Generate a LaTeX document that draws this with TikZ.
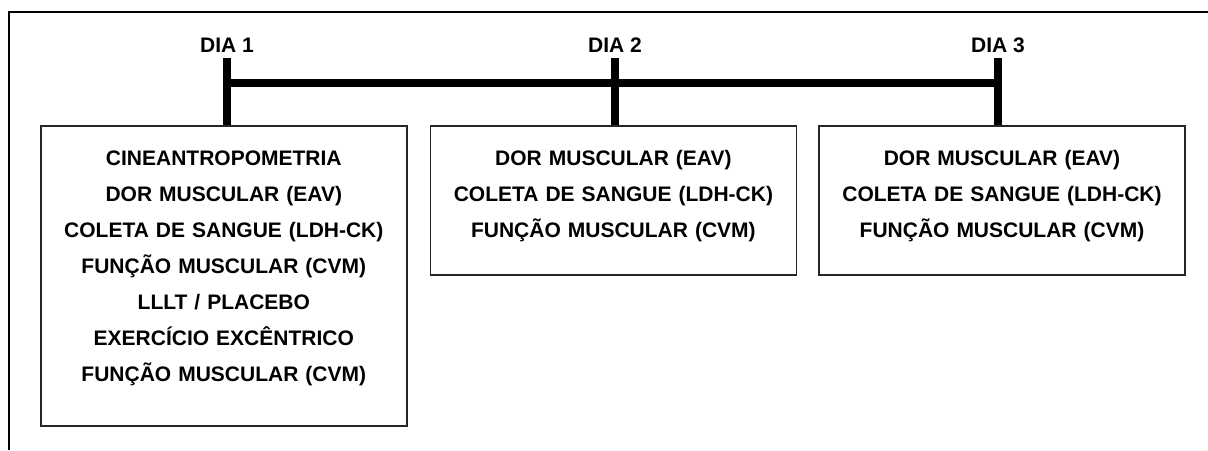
\documentclass[tikz,border=0pt]{standalone}
\usepackage{fontspec}
\setmainfont{Liberation Sans}
\usetikzlibrary{positioning}

\begin{document}
\begin{tikzpicture}[
  x=1pt,y=-1pt,
  node distance=22pt,
  font=\fontsize{21}{36}\selectfont\bfseries,
  daybox/.style={draw=black!85,line width=1.6pt,text width=366pt,inner xsep=0pt,
    inner ysep=0pt,align=center,text height=39.5pt},
  daylabel/.style={inner sep=0pt,text depth=0pt,anchor=base},
  tick/.style={line width=8pt},
  bar/.style={line width=8pt},
  frame/.style={line width=2pt}
]
  \useasboundingbox (0,0) rectangle (1208,450);
  \draw[frame] (9,450) -- (9,12) -- (1208,12);

  \node[daybox,text depth=260.5pt,anchor=north west] (day1) at (40,125)
    {CINEANTROPOMETRIA\\DOR MUSCULAR (EAV)\\COLETA DE SANGUE (LDH-CK)\\
     FUNÇÃO MUSCULAR (CVM)\\LLLT / PLACEBO\\EXERCÍCIO EXCÊNTRICO\\
     FUNÇÃO MUSCULAR (CVM)};
  \node[daybox,text depth=109.5pt,right=of day1.north east,anchor=north west] (day2)
    {DOR MUSCULAR (EAV)\\COLETA DE SANGUE (LDH-CK)\\FUNÇÃO MUSCULAR (CVM)};
  \node[daybox,text depth=109.5pt,right=21pt of day2.north east,anchor=north west] (day3)
    {DOR MUSCULAR (EAV)\\COLETA DE SANGUE (LDH-CK)\\FUNÇÃO MUSCULAR (CVM)};

  \node[daylabel] (dia1) at (227,52) {DIA 1};
  \node[daylabel] (dia2) at (615,52) {DIA 2};
  \node[daylabel] (dia3) at (998,52) {DIA 3};

  \draw[tick] ([yshift=-6pt]dia1.south) -- (dia1.south |- day1.north);
  \draw[tick] ([yshift=-6pt]dia2.south) -- (dia2.south |- day2.north);
  \draw[tick] ([yshift=-6pt]dia3.south) -- (dia3.south |- day3.north);
  \draw[bar] ([yshift=-30.5pt]dia1.south) -- ([yshift=-30.5pt]dia3.south);
\end{tikzpicture}
\end{document}
